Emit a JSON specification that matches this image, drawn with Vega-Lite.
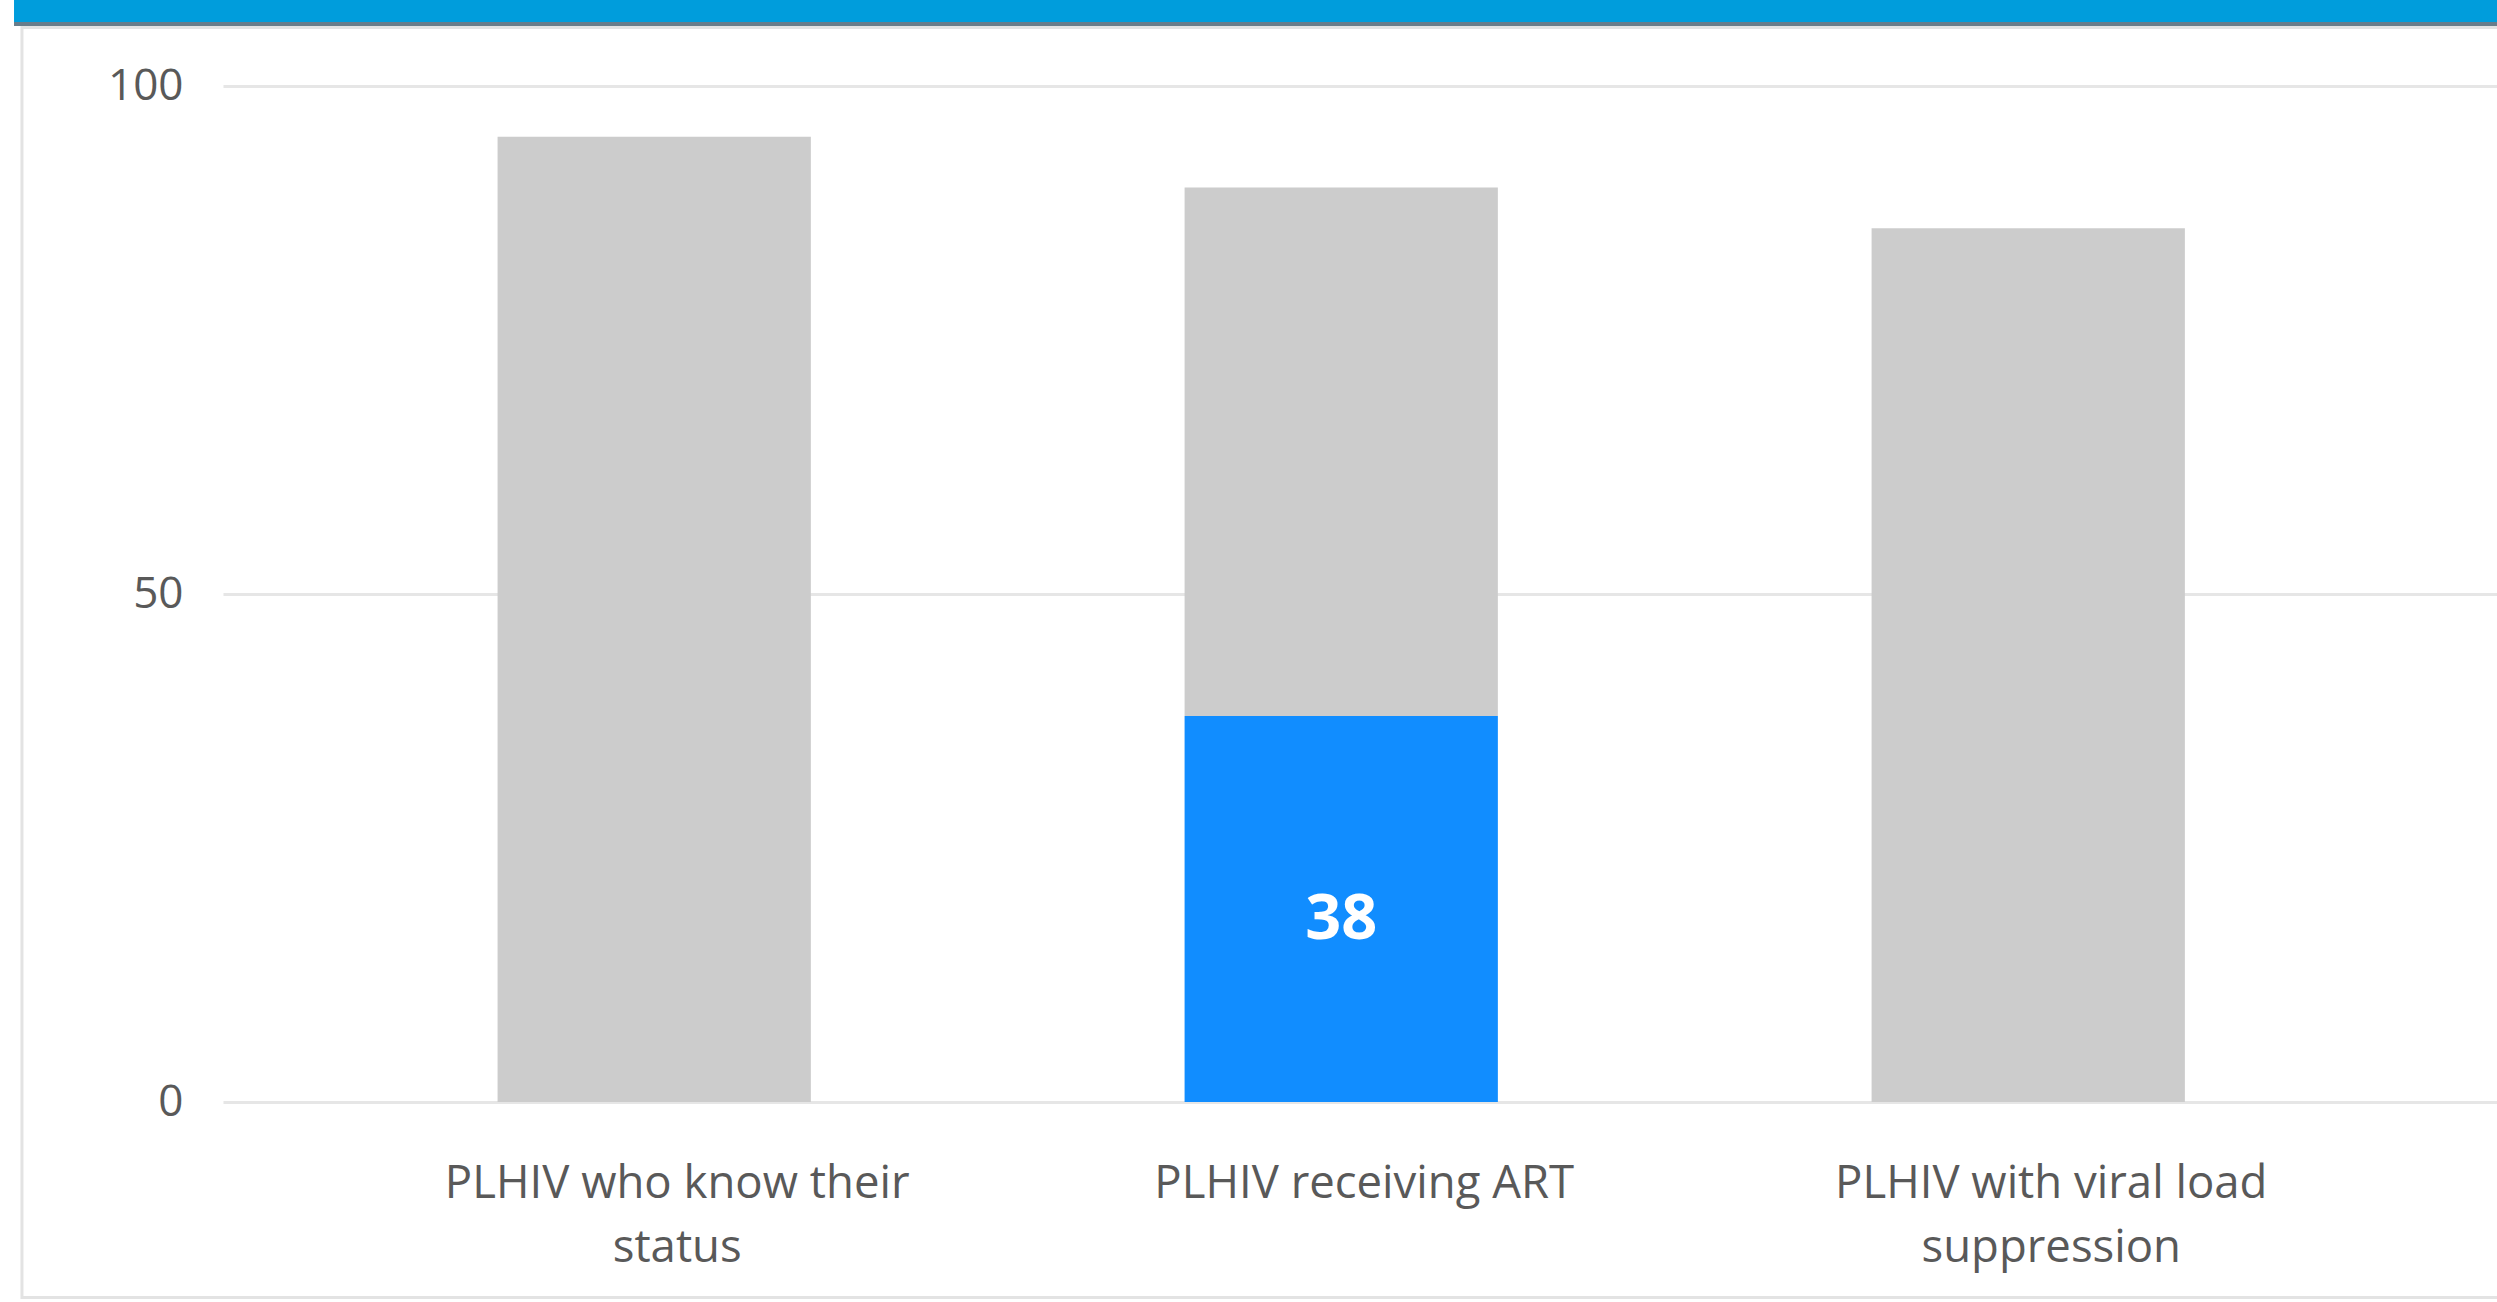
{
  "$schema": "https://vega.github.io/schema/vega-lite/v6.json",
  "width": 2274,
  "height": 1016,
  "autosize": {"type": "none"},
  "padding": {"left": 223, "top": 86, "right": 0, "bottom": 200},
  "background": "white",
  "config": {"view": {"stroke": null}, "font": "Open Sans"},
  "datasets": {
    "bars": [
      {"category": "PLHIV who know their status", "segment": "rest", "value": 95},
      {"category": "PLHIV receiving ART", "segment": "ART", "value": 38},
      {"category": "PLHIV receiving ART", "segment": "rest", "value": 52},
      {"category": "PLHIV with viral load suppression", "segment": "rest", "value": 86}
    ],
    "frame": [{"part": "frame"}]
  },
  "layer": [
    {
      "data": {"name": "frame"},
      "layer": [
        {
          "mark": {"type": "rect", "clip": false, "fill": null, "stroke": "#E3E3E3", "strokeWidth": 3},
          "encoding": {
            "x": {"datum": -0.0884, "type": "quantitative", "scale": {"domain": [0, 1], "nice": false, "zero": false}, "axis": null},
            "x2": {"datum": 1.02},
            "y": {"datum": 105.76, "type": "quantitative", "scale": {"domain": [0, 100], "nice": false, "zero": false}, "axis": null},
            "y2": {"datum": -19.24}
          }
        },
        {
          "mark": {"type": "rect", "clip": false, "color": "#009DDC"},
          "encoding": {
            "x": {"datum": -0.0919, "type": "quantitative"},
            "x2": {"datum": 1.02},
            "y": {"datum": 108.5, "type": "quantitative"},
            "y2": {"datum": 106.3}
          }
        },
        {
          "mark": {"type": "rect", "clip": false, "color": "#687D8B"},
          "encoding": {
            "x": {"datum": -0.0919, "type": "quantitative"},
            "x2": {"datum": 1.02},
            "y": {"datum": 106.3, "type": "quantitative"},
            "y2": {"datum": 105.91}
          }
        }
      ]
    },
    {
      "data": {"name": "bars"},
      "encoding": {
        "x": {
          "field": "category",
          "type": "nominal",
          "sort": null,
          "scale": {"paddingInner": 0.544, "paddingOuter": 0.427, "align": 0.468},
          "axis": {
            "orient": "bottom",
            "title": null,
            "ticks": false,
            "domain": false,
            "labelAngle": 0,
            "labelFont": "Open Sans",
            "labelFontSize": 45.5,
            "labelColor": "#595959",
            "labelPadding": 59,
            "labelOffset": 23,
            "labelLineHeight": 64,
            "labelLimit": 0,
            "labelExpr": "datum.label == 'PLHIV who know their status' ? ['PLHIV who know their', 'status'] : datum.label == 'PLHIV with viral load suppression' ? ['PLHIV with viral load', 'suppression'] : datum.label"
          }
        },
        "y": {
          "field": "value",
          "type": "quantitative",
          "stack": "zero",
          "scale": {"domain": [0, 100], "nice": false},
          "axis": {
            "orient": "left",
            "title": null,
            "values": [0, 50, 100],
            "ticks": false,
            "domain": false,
            "grid": true,
            "gridColor": "#E6E6E6",
            "gridWidth": 3,
            "labelFont": "Open Sans",
            "labelFontSize": 44,
            "labelColor": "#595959",
            "labelPadding": 40
          }
        },
        "order": {"field": "segment", "type": "nominal", "sort": "ascending"}
      },
      "layer": [
        {
          "mark": {"type": "bar"},
          "encoding": {
            "color": {
              "field": "segment",
              "type": "nominal",
              "scale": {"domain": ["ART", "rest"], "range": ["#118DFF", "#CCCCCC"]},
              "legend": null
            }
          }
        },
        {
          "transform": [{"filter": "datum.segment === 'ART'"}],
          "mark": {"type": "text", "color": "white", "font": "Open Sans", "fontSize": 63, "fontWeight": "bold", "baseline": "middle", "align": "center", "dy": 11},
          "encoding": {
            "text": {"field": "value", "type": "quantitative"},
            "y": {"field": "value", "type": "quantitative", "stack": "zero", "bandPosition": 0.5}
          }
        }
      ]
    }
  ],
  "resolve": {"scale": {"x": "independent", "y": "independent"}}
}
